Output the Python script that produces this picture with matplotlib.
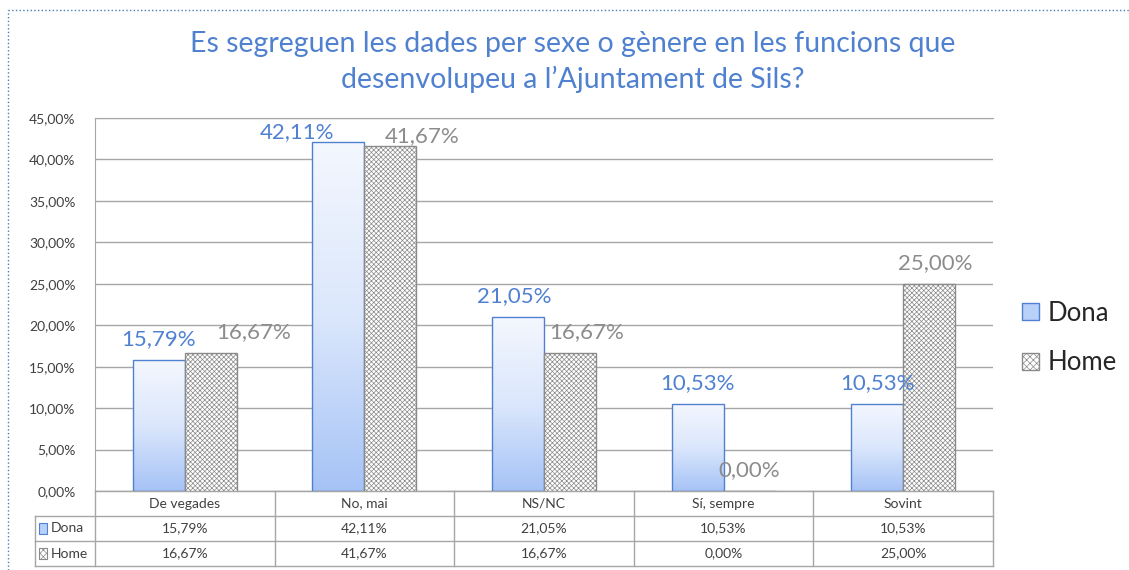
import numpy as np
import matplotlib
matplotlib.use('Agg')
import matplotlib.pyplot as plt
from matplotlib.patches import Rectangle, Patch
from matplotlib.colors import LinearSegmentedColormap
from matplotlib.transforms import blended_transform_factory

# dades
categories = ['De vegades', 'No, mai', 'NS/NC', 'Sí, sempre', 'Sovint']
dona = [15.79, 42.11, 21.05, 10.53, 10.53]
home = [16.67, 41.67, 16.67, 0.00, 25.00]
series_names = ['Dona', 'Home']
title = 'Es segreguen les dades per sexe o gènere en les funcions que\ndesenvolupeu a l’Ajuntament de Sils?'

# desplaçaments de les etiquetes (punts), com a l'original
dona_dx = [0, -30, -3, 0, 0]
dona_dy = [15, 7, 15, 15, 15]
home_dx = [31, 23, 12, 0, 4]
home_dy = [15, 7, 15, 15, 15]

plt.rcParams['font.family'] = ['Lato', 'DejaVu Sans']
plt.rcParams['hatch.linewidth'] = 0.5

BLUE = '#4f81d0'
GREY = '#8c8c8c'
LINE = '#a6a6a6'
HATCH = '#8a8a8a'

def fmt(v):
    return f'{v:.2f}'.replace('.', ',') + '%'

W, H = 1129, 570
fig = plt.figure(figsize=(W / 100, H / 100), dpi=100)
ax = fig.add_axes([95 / W, 1 - 491 / H, 898 / W, 373 / H])

x = np.arange(len(categories))
bw = 0.29
grad = LinearSegmentedColormap.from_list('g', ['#f4f7fe', '#dbe7fc', '#a6c3f6'])
gimg = np.linspace(0, 1, 256).reshape(-1, 1)

bars_d = ax.bar(x - bw / 2, dona, bw, facecolor='none', edgecolor=BLUE, linewidth=1.0, zorder=3)
for b in bars_d:
    im = ax.imshow(gimg, cmap=grad, aspect='auto', zorder=2,
                   extent=[b.get_x(), b.get_x() + b.get_width(), 0, b.get_height()],
                   origin='upper')
    im.set_clip_path(b)
bars_h = ax.bar(x + bw / 2, home, bw, facecolor='white', edgecolor=HATCH,
                hatch='xxxxxxx', linewidth=1.0, zorder=3)

for i in range(len(categories)):
    ax.annotate(fmt(dona[i]), (x[i] - bw / 2, dona[i]), xytext=(dona_dx[i], dona_dy[i]),
                textcoords='offset points', ha='center', va='center',
                fontsize=16, color=BLUE, zorder=5)
    ax.annotate(fmt(home[i]), (x[i] + bw / 2, home[i]), xytext=(home_dx[i], home_dy[i]),
                textcoords='offset points', ha='center', va='center',
                fontsize=16, color=GREY, zorder=5)

ax.set_xlim(-0.5, len(categories) - 0.5)
ax.set_ylim(0, 45)
ax.set_yticks(np.arange(0, 46, 5))
ax.set_yticklabels([fmt(v) for v in np.arange(0, 46, 5)], fontsize=10, color='#404040')
ax.set_xticks([])
ax.tick_params(axis='y', length=0, pad=14)
ax.yaxis.grid(True, color=LINE, linewidth=1.0, zorder=0)
ax.set_axisbelow(True)
for s in ax.spines.values():
    s.set_color(LINE)
ax.spines['right'].set_visible(False)

# taula de dades sota el gràfic
tr = blended_transform_factory(ax.transData, ax.transAxes)
rh = 25 / 373
left_lab = -0.5 - 60 / (898 / 5)
xr = len(categories) - 0.5
rows_y = [0, -rh, -2 * rh, -3 * rh]
kw = dict(transform=tr, color=LINE, linewidth=1.0, clip_on=False)
ax.plot([-0.5, xr], [rows_y[0], rows_y[0]], **kw)
for yy in rows_y[1:]:
    ax.plot([left_lab, xr], [yy, yy], **kw)
for xx in np.arange(-0.5, xr + 0.01, 1):
    ax.plot([xx, xx], [0, rows_y[-1]], **kw)
ax.plot([left_lab, left_lab], [rows_y[1], rows_y[-1]], **kw)

for i, c in enumerate(categories):
    ax.text(x[i], -rh / 2, c, transform=tr, ha='center', va='center', fontsize=10, color='#404040')
    ax.text(x[i], -1.5 * rh, fmt(dona[i]), transform=tr, ha='center', va='center', fontsize=10, color='#404040')
    ax.text(x[i], -2.5 * rh, fmt(home[i]), transform=tr, ha='center', va='center', fontsize=10, color='#404040')

kx = left_lab + 0.02
kw_w = 0.045
for r, (name, style) in enumerate(zip(series_names, ['d', 'h'])):
    yc = -(1.5 + r) * rh
    if style == 'd':
        p = Rectangle((kx, yc - 0.014), kw_w, 0.028, transform=tr, clip_on=False,
                      facecolor='#b9d0f8', edgecolor=BLUE, linewidth=0.8)
    else:
        p = Rectangle((kx, yc - 0.014), kw_w, 0.028, transform=tr, clip_on=False,
                      facecolor='white', edgecolor=HATCH, hatch='xxxxx', linewidth=0.8)
    ax.add_patch(p)
    ax.text(kx + kw_w + 0.02, yc, name, transform=tr, ha='left', va='center', fontsize=10, color='#404040')

# llegenda
handles = [Patch(facecolor='#b9d0f8', edgecolor=BLUE, label='Dona'),
           Patch(facecolor='white', edgecolor=HATCH, hatch='xxxxx', label='Home')]
fig.legend(handles=handles, loc='center left', bbox_to_anchor=(1022 / W, 1 - 338 / H),
           frameon=False, fontsize=18.5, handlelength=0.65, handleheight=0.65,
           handletextpad=0.35, labelspacing=0.95, borderpad=0, borderaxespad=0,
           labelcolor='#262626')

fig.text(573 / W, 1 - 62 / H, title, ha='center', va='center', fontsize=20.5,
         color=BLUE, linespacing=1.35)

# vora puntejada
fig.add_artist(plt.Line2D([8 / W, 1], [1 - 10 / H, 1 - 10 / H], transform=fig.transFigure,
                          color='#4a7ebb', linestyle=':', linewidth=1.0))
fig.add_artist(plt.Line2D([8 / W, 8 / W], [0, 1 - 10 / H], transform=fig.transFigure,
                          color='#4a7ebb', linestyle=':', linewidth=1.0))

fig.savefig('out.png', dpi=100)
